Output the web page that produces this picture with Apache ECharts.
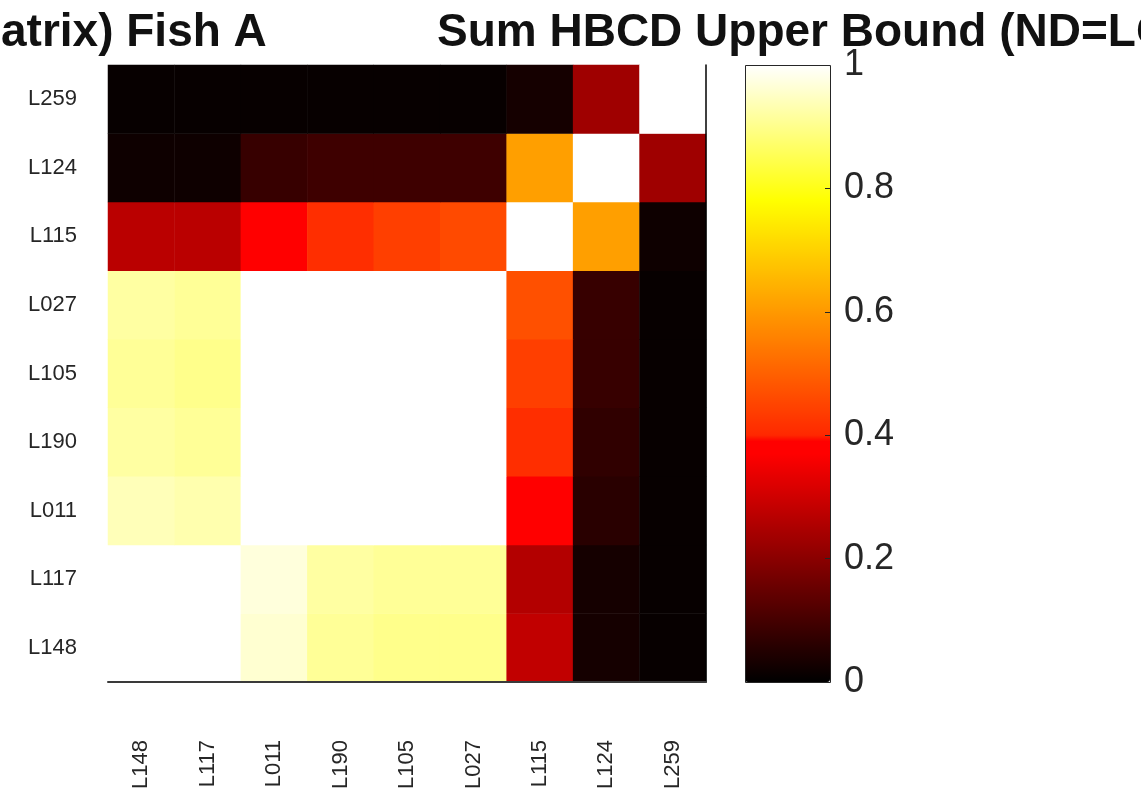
<!DOCTYPE html>
<html><head><meta charset="utf-8">
<script src="https://cdn.jsdelivr.net/npm/echarts@6/dist/echarts.min.js"></script>
<style>html,body{margin:0;padding:0;background:#fff}#c{width:1141px;height:800px}</style>
</head><body><div id="c"></div>
<script>
// Categories (x: left to right, y: bottom to top)
const xCategories = ['L148','L117','L011','L190','L105','L027','L115','L124','L259'];
const yCategories = ['L148','L117','L011','L190','L105','L027','L115','L124','L259'];

// One row per y category; columns follow xCategories
const rowL148 = [1.00, 1.00, 0.96, 0.91, 0.90, 0.90, 0.28, 0.03, 0.01];
const rowL117 = [1.00, 1.00, 0.97, 0.92, 0.91, 0.91, 0.26, 0.03, 0.01];
const rowL011 = [0.94, 0.93, 1.00, 1.00, 1.00, 1.00, 0.395, 0.06, 0.01];
const rowL190 = [0.92, 0.91, 1.00, 1.00, 1.00, 1.00, 0.41, 0.07, 0.01];
const rowL105 = [0.91, 0.90, 1.00, 1.00, 1.00, 1.00, 0.44, 0.08, 0.01];
const rowL027 = [0.92, 0.91, 1.00, 1.00, 1.00, 1.00, 0.47, 0.08, 0.01];
const rowL115 = [0.27, 0.27, 0.39, 0.41, 0.44, 0.46, 1.00, 0.61, 0.02];
const rowL124 = [0.02, 0.02, 0.08, 0.09, 0.09, 0.09, 0.61, 1.00, 0.23];
const rowL259 = [0.01, 0.01, 0.01, 0.01, 0.01, 0.01, 0.03, 0.23, 1.00];
const matrixRows = [rowL148, rowL117, rowL011, rowL190, rowL105, rowL027, rowL115, rowL124, rowL259];

// Colour bar scale
const colorbarMin = 0;
const colorbarMax = 1;
const colorbarStep = 0.2;

const titleLeft = 'atrix) Fish A';
const titleRight = 'Sum HBCD Upper Bound (ND=LOQ)';

// Build heatmap data from the arrays
const heatData = [];
matrixRows.forEach((row, yi) => row.forEach((v, xi) => heatData.push([xi, yi, v])));

// "hot"-like colour map with a step at 0.4 (style only)
const cmapStops = [
  [0.0,   [0, 0, 0]],
  [0.37,  [255, 0, 0]],
  [0.3995,[255, 0, 0]],
  [0.4,   [255, 40, 0]],
  [0.78,  [255, 255, 0]],
  [1.0,   [255, 255, 255]]
];
function cmap(t) {
  for (let k = 1; k < cmapStops.length; k++) {
    const [t1, c1] = cmapStops[k];
    const [t0, c0] = cmapStops[k - 1];
    if (t <= t1) {
      const f = t1 === t0 ? 1 : (t - t0) / (t1 - t0);
      const c = c0.map((v, i) => Math.round(v + (c1[i] - v) * f));
      return 'rgb(' + c.join(',') + ')';
    }
  }
  return 'rgb(255,255,255)';
}
const palette = [];
for (let k = 0; k <= 400; k++) palette.push(cmap(k / 400));

const font = '"Liberation Sans", Arial, Helvetica, sans-serif';
const chart = echarts.init(document.getElementById('c'), null, {renderer: 'canvas'});
chart.setOption({
  animation: false,
  backgroundColor: '#ffffff',
  grid: [
    {left: 108, top: 65, width: 598, height: 617, outerBoundsMode: 'none', containLabel: false},
    {left: 745, top: 65, width: 85, height: 617, outerBoundsMode: 'none', containLabel: false}
  ],
  xAxis: [
    {type: 'category', gridIndex: 0, data: xCategories, position: 'bottom',
     axisLine: {show: true, onZero: false, lineStyle: {color: '#3a3a3a', width: 2}},
     axisTick: {show: false}, splitLine: {show: false}, z: 10,
     axisLabel: {rotate: 90, interval: 0, fontSize: 22, color: '#262626', margin: 58, fontFamily: font}},
    {type: 'value', gridIndex: 1, min: 0, max: 1, show: false}
  ],
  yAxis: [
    {type: 'category', gridIndex: 0, data: yCategories, position: 'left',
     axisLine: {show: false, onZero: false}, axisTick: {show: false}, splitLine: {show: false},
     axisLabel: {interval: 0, fontSize: 22, color: '#262626', margin: 31, fontFamily: font}},
    {type: 'category', gridIndex: 0, data: yCategories, position: 'right',
     axisLine: {show: true, onZero: false, lineStyle: {color: '#000000', width: 1.5}},
     axisTick: {show: false}, axisLabel: {show: false}, splitLine: {show: false}, z: 10},
    {type: 'value', gridIndex: 1, min: colorbarMin, max: colorbarMax, interval: colorbarStep, position: 'right',
     axisLine: {show: false, onZero: false}, splitLine: {show: false}, z: 10,
     axisTick: {show: true, inside: true, length: 5, lineStyle: {color: '#262626'}},
     axisLabel: {fontSize: 36, color: '#262626', margin: 14, fontFamily: font}}
  ],
  visualMap: {
    type: 'continuous', min: colorbarMin, max: colorbarMax, seriesIndex: 0,
    calculable: false, hoverLink: false, orient: 'vertical',
    left: 745, top: 65, itemWidth: 85, itemHeight: 617, padding: 0,
    inRange: {color: palette}
  },
  graphic: [
    {type: 'rect', z: 100, silent: true,
     shape: {x: 745.5, y: 65.5, width: 85, height: 617},
     style: {fill: 'none', stroke: '#262626', lineWidth: 1}},
    {type: 'text', x: 1, y: 33, z: 100, silent: true,
     style: {text: titleLeft, font: 'bold 46px ' + font, fill: '#111111', align: 'left', verticalAlign: 'middle'}},
    {type: 'text', x: 437, y: 33, z: 100, silent: true,
     style: {text: titleRight, font: 'bold 46px ' + font, fill: '#111111', align: 'left', verticalAlign: 'middle'}}
  ],
  series: [{
    type: 'heatmap', xAxisIndex: 0, yAxisIndex: 0, data: heatData,
    emphasis: {disabled: true}, progressive: 0
  }]
});
</script></body></html>
